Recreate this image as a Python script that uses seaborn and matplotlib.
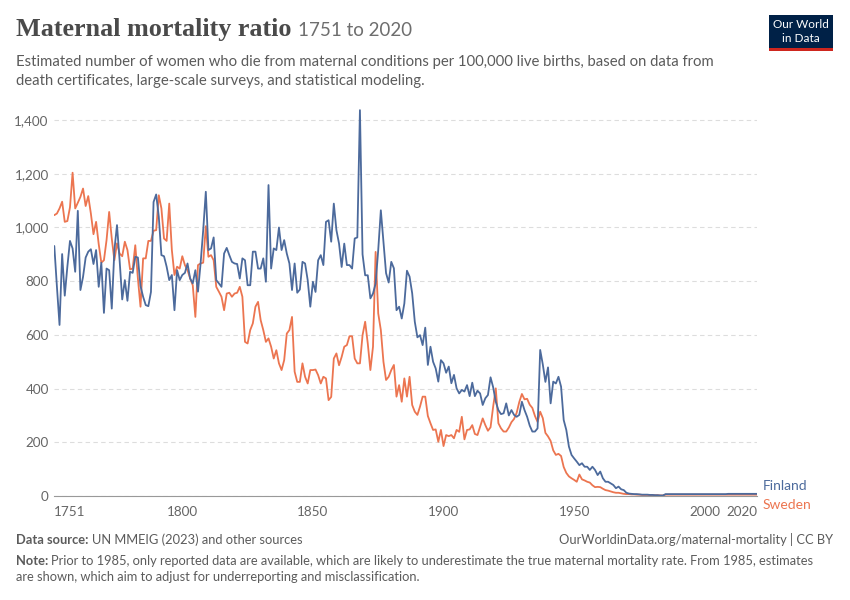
import pandas as pd
import matplotlib.pyplot as plt
import seaborn as sns
from matplotlib.patches import Rectangle

# Du lieu doc tu bieu do (1751-2020)
years = list(range(1751, 2021))

finland = [
    931, 780, 637, 901, 746, 854, 950, 922, 835, 1062,
    767, 816, 888, 910, 919, 864, 916, 779, 869, 682,
    847, 841, 698, 916, 1009, 878, 732, 804, 727, 835,
    831, 891, 888, 782, 742, 711, 707, 760, 1095, 1123,
    1040, 897, 893, 854, 804, 823, 692, 841, 804, 823,
    831, 866, 810, 792, 841, 761, 866, 990, 1133, 916,
    922, 963, 804, 792, 779, 903, 924, 897, 872, 866,
    864, 810, 885, 878, 785, 785, 910, 910, 847, 847,
    885, 798, 1158, 847, 922, 916, 1000, 916, 953, 903,
    866, 767, 866, 757, 769, 872, 866, 804, 705, 798,
    760, 878, 897, 860, 1021, 1027, 947, 1089, 990, 940,
    853, 940, 860, 860, 847, 959, 963, 1437, 900, 822,
    822, 736, 754, 791, 916, 1064, 947, 830, 795, 872,
    848, 692, 705, 661, 717, 839, 817, 755, 649, 591,
    599, 562, 627, 488, 556, 500, 475, 426, 506, 494,
    459, 482, 420, 451, 401, 382, 395, 389, 413, 372,
    422, 372, 392, 382, 339, 364, 376, 442, 405, 351,
    320, 305, 308, 345, 300, 320, 302, 295, 302, 351,
    320, 295, 262, 240, 240, 252, 544, 490, 425, 479,
    345, 426, 419, 444, 407, 283, 246, 184, 153, 140,
    128, 115, 122, 109, 109, 97, 109, 97, 78, 91,
    66, 53, 53, 47, 41, 29, 35, 25, 22, 12,
    9, 8, 7, 7, 6, 5, 5, 5, 4, 4,
    3, 3, 2, 2, 7, 7, 7, 7, 7, 7,
    7, 7, 7, 7, 7, 7, 7, 7, 7, 7,
    7, 7, 7, 7, 7, 7, 7, 7, 8, 8,
    8, 8, 8, 8, 8, 8, 8, 8, 8, 8,
]

sweden = [
    1046, 1052, 1071, 1096, 1021, 1024, 1075, 1204, 1071, 1092,
    1114, 1145, 1080, 1117, 1052, 975, 1021, 938, 869, 878,
    953, 1058, 959, 878, 941, 903, 893, 947, 916, 844,
    847, 934, 810, 705, 885, 885, 950, 950, 988, 990,
    1120, 1071, 959, 950, 1089, 916, 823, 854, 847, 893,
    860, 841, 810, 785, 667, 860, 866, 869, 1005, 891,
    897, 878, 779, 761, 742, 692, 754, 757, 742, 754,
    757, 779, 742, 574, 568, 618, 643, 705, 723, 655,
    618, 574, 587, 556, 512, 543, 494, 469, 506, 605,
    618, 667, 463, 425, 425, 494, 444, 419, 469, 469,
    471, 450, 419, 444, 438, 357, 369, 512, 531, 487,
    518, 556, 562, 595, 595, 512, 494, 494, 599, 649,
    568, 469, 556, 909, 680, 618, 500, 432, 444, 469,
    488, 370, 413, 351, 438, 370, 444, 339, 314, 302,
    333, 370, 370, 298, 271, 246, 248, 202, 246, 186,
    227, 223, 227, 215, 246, 239, 295, 211, 246, 248,
    264, 231, 227, 258, 289, 264, 243, 256, 333, 401,
    271, 252, 240, 240, 255, 275, 287, 310, 350, 380,
    360, 362, 340, 328, 298, 276, 314, 290, 235, 222,
    205, 170, 153, 157, 149, 108, 86, 73, 66, 60,
    53, 80, 62, 58, 53, 50, 40, 33, 34, 33,
    27, 22, 20, 17, 14, 12, 12, 10, 8, 7,
    7, 6, 6, 5, 5, 4, 4, 4, 3, 3,
    3, 3, 2, 2, 5, 5, 5, 5, 5, 5,
    5, 5, 5, 5, 5, 5, 5, 5, 5, 5,
    5, 5, 5, 5, 5, 5, 5, 5, 5, 5,
    5, 5, 5, 5, 5, 5, 5, 5, 5, 5,
]

countries = ["Finland", "Sweden"]
colors = {"Finland": "#4C6A9C", "Sweden": "#EC7550"}
y_ticks = [0, 200, 400, 600, 800, 1000, 1200, 1400]
x_ticks = [1751, 1800, 1850, 1900, 1950, 2000, 2020]

assert len(finland) == len(years), len(finland)
assert len(sweden) == len(years), len(sweden)

df = pd.concat([
    pd.DataFrame({"year": years, "value": finland, "country": "Finland"}),
    pd.DataFrame({"year": years, "value": sweden, "country": "Sweden"}),
])

sns.set_style("white")
plt.rcParams["font.family"] = ["Lato", "DejaVu Sans"]

W, H = 850, 600
fig = plt.figure(figsize=(W / 100, H / 100), dpi=100)


def px(x, y):
    return x / W, 1 - y / H


# vung ve: x 54 -> 757, y 108 -> 496
ax = fig.add_axes([54.3 / W, 1 - 496 / H, (757 - 54.3) / W, (496 - 108) / H])
# Sweden ve truoc de Finland nam tren
sns.lineplot(data=df, x="year", y="value", hue="country", palette=colors,
             hue_order=countries[::-1], linewidth=1.3, legend=False, ax=ax)

ax.set_xlim(1751, 2020)
ax.set_ylim(0, 1445)
ax.set_xlabel("")
ax.set_ylabel("")
ax.set_yticks(y_ticks)
ax.set_yticklabels([f"{v:,}" for v in y_ticks])
ax.set_xticks(x_ticks)
ax.set_xticklabels([str(v) for v in x_ticks])
ax.tick_params(axis="y", length=0, pad=4, labelsize=9.7, labelcolor="#666666")
ax.tick_params(axis="x", length=4, width=0.8, color="#999999", pad=3,
               labelsize=9.7, labelcolor="#666666")
xl = ax.get_xticklabels()
xl[0].set_ha("left")
xl[-1].set_ha("right")
ax.grid(axis="y", color="#dddddd", linestyle=(0, (4, 3)), linewidth=0.8)
ax.grid(axis="x", visible=False)
for s in ["top", "right", "left"]:
    ax.spines[s].set_visible(False)
ax.spines["bottom"].set_color("#999999")
ax.spines["bottom"].set_linewidth(0.8)

# nhan cuoi duong
fig.text(*px(763, 486), "Finland", color=colors["Finland"], fontsize=10, va="center")
fig.text(*px(763, 505), "Sweden", color=colors["Sweden"], fontsize=10, va="center")

# tieu de
title = fig.text(*px(16, 36), "Maternal mortality ratio", family="Liberation Serif",
                 fontweight="bold", fontsize=18.8, color="#4a4a4a", va="baseline")
fig.canvas.draw()
bb = title.get_window_extent()
fig.text((bb.x1 + 6) / W, 1 - 36 / H, "1751 to 2020", fontsize=13.5, color="#6e6e6e",
         va="baseline")

fig.text(*px(16, 62), "Estimated number of women who die from maternal conditions per 100,000 "
         "live births, based on data from", fontsize=10.7, color="#5b5b5b", va="center")
fig.text(*px(16, 81), "death certificates, large-scale surveys, and statistical modeling.",
         fontsize=10.7, color="#5b5b5b", va="center")

# chan trang
fs = 9.3
lab = fig.text(*px(16, 540), "Data source:", fontsize=fs, color="#5b5b5b",
               fontweight="bold", va="center")
fig.canvas.draw()
bb = lab.get_window_extent()
fig.text((bb.x1 + 3) / W, 1 - 540 / H, "UN MMEIG (2023) and other sources", fontsize=fs,
         color="#5b5b5b", va="center")
fig.text(*px(833, 540), "OurWorldinData.org/maternal-mortality | CC BY", fontsize=fs,
         color="#5b5b5b", va="center", ha="right")

lab = fig.text(*px(16, 561), "Note:", fontsize=fs, color="#5b5b5b",
               fontweight="bold", va="center")
fig.canvas.draw()
bb = lab.get_window_extent()
fig.text((bb.x1 + 3) / W, 1 - 561 / H, "Prior to 1985, only reported data are available, "
         "which are likely to underestimate the true maternal mortality rate. From 1985, estimates",
         fontsize=fs, color="#5b5b5b", va="center")
fig.text(*px(16, 577), "are shown, which aim to adjust for underreporting and misclassification.",
         fontsize=fs, color="#5b5b5b", va="center")

# logo
fig.patches.append(Rectangle(px(769, 48), 64 / W, 33 / H, transform=fig.transFigure,
                             facecolor="#002147", edgecolor="none"))
fig.patches.append(Rectangle(px(769, 51), 64 / W, 3 / H, transform=fig.transFigure,
                             facecolor="#CE261E", edgecolor="none"))
fig.text(*px(801, 25), "Our World", fontsize=8.5, color="white", ha="center", va="center")
fig.text(*px(801, 39), "in Data", fontsize=8.5, color="white", ha="center", va="center")

fig.savefig("out.png", dpi=100)
